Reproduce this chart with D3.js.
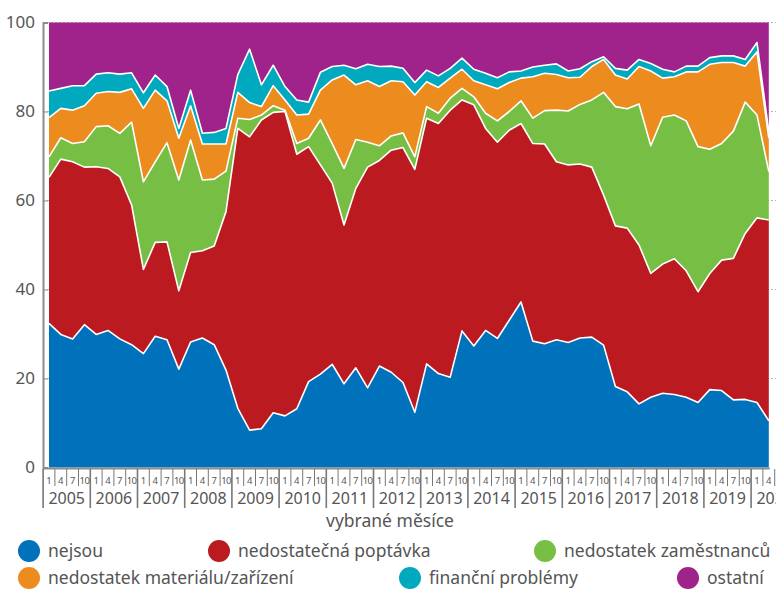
<!DOCTYPE html>
<html>
<head>
<meta charset="utf-8">
<script src="https://cdn.jsdelivr.net/npm/d3@7"></script>
<style>
  body { margin: 0; background: #fff; }
  svg { font-family: "Noto Sans", "Open Sans", sans-serif; }
</style>
</head>
<body>
<div id="chart"></div>
<script>
// quarterly survey, 2005/1 .. 2020/4 (months 1,4,7,10)
var years = [2005,2006,2007,2008,2009,2010,2011,2012,2013,2014,2015,2016,2017,2018,2019,2020];
var months = ["1","4","7","10"];
var seriesNames = ["nejsou", "nedostatečná poptávka", "nedostatek zaměstnanců",
                   "nedostatek materiálu/zařízení", "finanční problémy", "ostatní"];
var colors = ["#0071bb", "#bb1a20", "#77bf44", "#ec8c1f", "#00a9be", "#a0228b"];

var nejsou = [32.4,29.9,28.9,32.1,29.9,30.8,28.9,27.6,25.6,29.5,28.7,22.1,28.2,29.1,27.6,21.9,
  13.3,8.4,8.7,12.3,11.6,13.2,19.3,21.0,23.2,18.8,22.4,17.9,22.8,21.4,19.1,12.4,
  23.3,21.1,20.3,30.7,27.3,30.8,29.0,33.1,37.2,28.4,27.8,28.7,28.1,29.1,29.3,27.5,
  18.2,17.0,14.3,15.8,16.7,16.4,15.8,14.6,17.5,17.3,15.2,15.3,14.6,10.5];
var poptavka = [32.8,39.4,39.8,35.4,37.7,36.4,36.4,31.4,18.9,21.1,22.0,17.6,20.1,19.6,22.2,35.6,
  62.9,65.9,69.4,67.5,68.4,57.2,52.8,47.0,40.7,35.7,40.3,49.6,46.2,49.9,52.8,54.6,
  55.2,56.2,60.0,51.9,54.2,45.4,44.1,42.7,40.1,44.4,44.9,40.0,39.9,39.1,38.2,33.7,
  36.1,36.8,35.7,27.8,29.0,30.5,28.4,24.9,26.1,29.3,31.8,37.3,41.5,45.1];
var zamestnanci = [4.6,4.8,4.1,5.7,9.0,9.6,9.8,18.6,19.7,18.1,22.3,24.9,25.3,15.9,15.0,9.1,
  2.3,3.9,1.1,1.5,0.3,2.4,1.9,10.1,8.9,12.7,11.0,5.6,3.3,3.2,3.3,2.8,
  2.6,2.3,2.7,2.6,1.8,3.4,4.8,4.2,5.1,5.7,7.5,11.6,12.1,13.4,15.1,23.1,
  26.8,26.8,31.7,28.7,33.0,32.3,33.7,32.6,27.9,26.2,28.6,29.5,23.1,10.9];
var material = [8.8,6.6,7.5,8.1,7.5,7.7,9.2,7.5,16.5,16.1,9.4,9.4,7.7,8.1,7.9,6.1,
  5.8,3.8,1.9,4.5,2.3,6.4,5.4,6.7,14.3,21.0,12.3,13.8,13.3,12.4,11.5,13.9,
  5.6,5.8,4.5,4.3,3.6,6.4,7.2,6.5,5.1,9.3,8.4,8.0,7.5,6.1,7.5,7.4,
  7.1,6.7,8.4,16.8,8.8,8.6,11.0,16.8,19.1,18.2,15.4,8.1,14.2,7.5];
var financni = [6.0,4.5,5.5,4.5,4.3,4.2,4.1,3.6,3.5,3.4,3.2,2.2,3.5,2.4,2.6,3.5,
  4.0,12.0,4.9,4.6,3.0,3.4,2.7,4.0,3.0,2.2,3.6,3.7,4.5,3.3,3.0,2.8,
  2.6,2.6,2.2,2.5,2.6,2.6,2.5,2.4,1.6,2.2,1.8,2.4,1.5,1.9,1.1,0.6,
  1.5,2.0,1.6,1.7,2.0,1.1,1.3,1.3,1.5,1.5,1.5,1.5,2.1,1.5];
var ostatni = [15.4,14.8,14.2,14.2,11.6,11.3,11.6,11.3,15.8,11.8,14.4,23.8,15.2,24.9,24.7,23.8,
  11.7,6.0,14.0,9.6,14.4,17.4,17.9,11.2,9.9,9.6,10.4,9.4,9.9,9.8,10.3,13.5,
  10.7,12.0,10.3,8.0,10.5,11.4,12.4,11.1,10.9,10.0,9.6,9.3,10.9,10.4,8.8,8.2,
  10.3,10.7,8.3,9.2,10.5,11.1,9.8,9.8,7.9,7.5,7.5,8.3,4.5,24.5];
var yTicks = [0, 20, 40, 60, 80, 100];

var width = 776, height = 589;
var svg = d3.select("#chart").append("svg")
    .attr("width", width)
    .attr("height", height);

var n = nejsou.length;
var x = d3.scaleLinear().domain([0, n - 1]).range([49, 768.8]);
var y = d3.scaleLinear().domain([0, 100]).range([467.5, 22.5]);
var axisX = 43;

// rows for the stack
var rows = d3.range(n).map(function(i) {
  return { i: i, s0: nejsou[i], s1: poptavka[i], s2: zamestnanci[i],
           s3: material[i], s4: financni[i], s5: ostatni[i] };
});
var stack = d3.stack().keys(["s0","s1","s2","s3","s4","s5"]);
var layers = stack(rows);

// dotted grid behind
svg.append("g").selectAll("line")
  .data(yTicks.slice(1))
  .enter().append("line")
    .attr("x1", axisX).attr("x2", width)
    .attr("y1", function(d) { return y(d); })
    .attr("y2", function(d) { return y(d); })
    .attr("stroke", "#b5b5b5")
    .attr("stroke-dasharray", "2,2");

var area = d3.area()
  .x(function(d) { return x(d.data.i); })
  .y0(function(d) { return y(d[0]); })
  .y1(function(d) { return y(Math.min(d[1], 100)); });

var topLine = d3.line()
  .x(function(d) { return x(d.data.i); })
  .y(function(d) { return y(Math.min(d[1], 100)); });

svg.append("g").selectAll("path")
  .data(layers)
  .enter().append("path")
    .attr("d", area)
    .attr("fill", function(d, k) { return colors[k]; });

svg.append("g").selectAll("path")
  .data(layers.slice(0, 5))
  .enter().append("path")
    .attr("d", topLine)
    .attr("fill", "none")
    .attr("stroke", "#fff")
    .attr("stroke-width", 1.6)
    .attr("stroke-linejoin", "round");

// y axis
var yAxis = d3.axisLeft(y).tickValues(yTicks).tickSize(-5).tickPadding(8);
var gy = svg.append("g")
  .attr("transform", "translate(" + axisX + ",0)")
  .call(yAxis);
gy.select(".domain").attr("stroke", "#8c8c8c").attr("stroke-width", 2);
gy.selectAll(".tick line").attr("stroke", "#8c8c8c");
gy.selectAll(".tick text")
  .attr("fill", "#555")
  .style("font-size", "17px")
  .style("font-family", "'Noto Sans', sans-serif");

// x axis: baseline, quarter ticks, year separators
var gx = svg.append("g");
gx.append("line")
  .attr("x1", axisX).attr("x2", x(n - 1) + 1)
  .attr("y1", 468.5).attr("y2", 468.5)
  .attr("stroke", "#8c8c8c").attr("stroke-width", 2);

var slots = d3.range(years.length * 4);
gx.selectAll(".qt")
  .data(slots)
  .enter().append("line")
    .attr("x1", function(d) { return x(d - 0.5); })
    .attr("x2", function(d) { return x(d - 0.5); })
    .attr("y1", 469)
    .attr("y2", function(d) { return d % 4 === 0 ? 508 : 486; })
    .attr("stroke", "#777")
    .attr("stroke-width", function(d) { return d % 4 === 0 ? 1.6 : 1; });

gx.selectAll(".ql")
  .data(slots.filter(function(d) { return d < n; }))
  .enter().append("text")
    .attr("x", function(d) { return x(d); })
    .attr("y", 483.5)
    .attr("text-anchor", "middle")
    .attr("fill", "#555")
    .style("font-size", "9.5px")
    .style("letter-spacing", function(d) { return d % 4 === 3 ? "-0.6px" : null; })
    .text(function(d) { return months[d % 4]; });

gx.selectAll(".yl")
  .data(years)
  .enter().append("text")
    .attr("x", function(d, k) { return x(k * 4 + 1.5); })
    .attr("y", 504)
    .attr("text-anchor", "middle")
    .attr("fill", "#555")
    .style("font-size", "16px")
    .text(function(d) { return d; });

svg.append("text")
  .attr("x", 390).attr("y", 527)
  .attr("text-anchor", "middle")
  .attr("fill", "#555")
  .style("font-size", "17.5px")
  .text("vybrané měsíce");

// legend, two rows
var legendPos = [[29, 551], [219, 551], [545, 551], [29, 578], [410, 578], [688, 578]];
var lg = svg.append("g").selectAll("g")
  .data(seriesNames)
  .enter().append("g")
    .attr("transform", function(d, k) { return "translate(" + legendPos[k][0] + "," + legendPos[k][1] + ")"; });
lg.append("circle")
  .attr("r", 11)
  .attr("fill", function(d, k) { return colors[k]; });
lg.append("text")
  .attr("x", 19).attr("y", 6)
  .attr("fill", "#555")
  .style("font-size", "17.5px")
  .text(function(d) { return d; });
</script>
</body>
</html>
